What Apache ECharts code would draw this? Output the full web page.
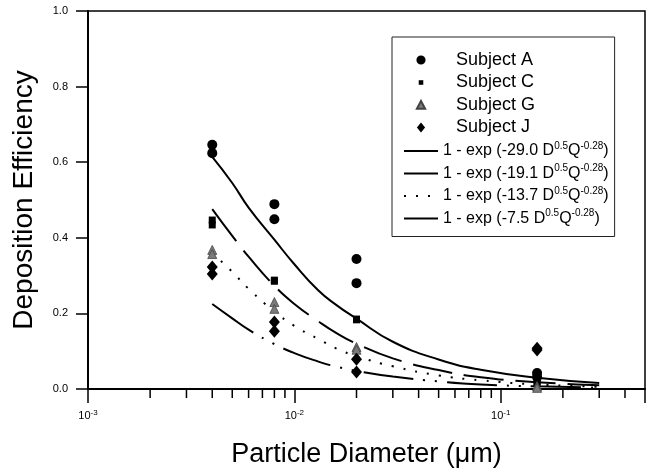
<!DOCTYPE html>
<html>
<head>
    <meta charset="utf-8">
    <title>Deposition Efficiency</title>
    <script src="https://cdn.jsdelivr.net/npm/echarts@6/dist/echarts.min.js"></script>
    <style>
        html, body { margin: 0; padding: 0; background: #fff; }
        #chart { width: 660px; height: 476px; }
    </style>
</head>
<body>
<div id="chart"></div>
<script type="text/javascript">
    // measured particle diameters (um)
    var diameters = [0.004, 0.008, 0.02, 0.15];

    // two repeat measurements per diameter
    var subjectA = [[0.646, 0.624], [0.489, 0.449], [0.344, 0.280], [0.042, 0.032]];
    var subjectC = [[0.447, 0.434], [0.288, 0.285], [0.185, 0.183], [0.019, 0.017]];
    var subjectG = [[0.368, 0.357], [0.230, 0.212], [0.111, 0.104], [0.008, 0.003]];
    var subjectJ = [[0.323, 0.304], [0.177, 0.153], [0.079, 0.045], [0.108, 0.103]];

    // fitted curves
    var fitDiameters = [0.004, 0.005, 0.006, 0.008, 0.01, 0.013, 0.016, 0.02, 0.03, 0.05, 0.08, 0.15, 0.3];
    var fit29 = [0.614, 0.545, 0.480, 0.395, 0.330, 0.262, 0.222, 0.186, 0.125, 0.078, 0.051, 0.030, 0.016];
    var fit19 = [0.476, 0.405, 0.350, 0.273, 0.225, 0.180, 0.148, 0.120, 0.081, 0.050, 0.031, 0.018, 0.010];
    var fit13 = [0.360, 0.310, 0.265, 0.205, 0.167, 0.133, 0.107, 0.087, 0.060, 0.036, 0.023, 0.012, 0.006];
    var fit7 = [0.225, 0.187, 0.157, 0.119, 0.095, 0.073, 0.059, 0.048, 0.033, 0.020, 0.012, 0.007, 0.004];

    var fitCoefs = ['-29.0', '-19.1', '-13.7', '-7.5'];
    var yTicks = [0, 0.2, 0.4, 0.6, 0.8, 1.0];
    var minorTickValues = [0.002, 0.003, 0.004, 0.005, 0.006, 0.007, 0.008, 0.009,
        0.02, 0.03, 0.04, 0.05, 0.06, 0.07, 0.08, 0.09, 0.2, 0.3, 0.4];

    var font = 'Liberation Sans, Arial, Helvetica, sans-serif';

    function points(vals) {
        var out = [];
        for (var i = 0; i < diameters.length; i++) {
            for (var j = 0; j < vals[i].length; j++) {
                out.push([diameters[i], vals[i][j]]);
            }
        }
        return out;
    }

    function curve(vals) {
        return fitDiameters.map(function (d, i) { return [d, vals[i]]; });
    }

    function fitName(i) { return 'fit ' + fitCoefs[i]; }

    function fitLegend(i) {
        return { name: fitName(i), itemStyle: { opacity: 0 } };
    }

    var myChart = echarts.init(document.getElementById('chart'));

    option = {
        animation: false,
        backgroundColor: '#fff',
        textStyle: { fontFamily: font },
        grid: {
            left: 88, right: 15, top: 11, bottom: 87,
            show: true, borderColor: '#000', borderWidth: 1.5
        },
        legend: {
            orient: 'vertical',
            left: 392, top: 37,
            padding: [14, 6, 10, 11],
            itemGap: 4.5,
            itemWidth: 34,
            itemHeight: 11,
            backgroundColor: '#fff',
            borderColor: '#222',
            borderWidth: 1,
            selectedMode: false,
            data: [
                { name: 'Subject A', icon: 'path://M0,0M12,12M6,1A5,5,0,1,1,5.99,1Z' },
                { name: 'Subject C', icon: 'path://M0,0M12,12M3.5,3.5L8.5,3.5L8.5,8.5L3.5,8.5Z' },
                { name: 'Subject G', icon: 'path://M0,0M12,12M6,1.5L10.5,10L1.5,10Z' },
                { name: 'Subject J', icon: 'path://M0,0M12,12M6,0.5L10.5,6L6,11.5L1.5,6Z' },
                fitLegend(0), fitLegend(1), fitLegend(2), fitLegend(3)
            ],
            formatter: function (name) {
                if (name.indexOf('Subject') === 0) {
                    return '{sub|' + name + '}';
                }
                var c = name.split(' ')[1];
                return '{f|1 - exp (' + c + ' D}{sup|0.5}{f|Q}{sup|-0.28}{f|)}';
            },
            textStyle: {
                color: '#000',
                fontFamily: font,
                rich: {
                    sub: { fontSize: 18, lineHeight: 20, padding: [0, 0, 0, 13], fontFamily: font, color: '#000' },
                    f: { fontSize: 16, lineHeight: 20, fontFamily: font, color: '#000' },
                    sup: { fontSize: 10, lineHeight: 9, verticalAlign: 'top', fontFamily: font, color: '#000' }
                }
            }
        },
        xAxis: {
            type: 'log',
            logBase: 10,
            min: 0.001,
            max: 0.5,
            name: 'Particle Diameter (\u03bcm)',
            nameLocation: 'middle',
            nameGap: 52,
            nameTextStyle: { fontSize: 27, color: '#000', fontFamily: font },
            axisLine: { lineStyle: { color: '#000', width: 2 } },
            axisTick: { show: true, length: 14, lineStyle: { color: '#000', width: 1.5 } },
            splitLine: { show: false },
            axisLabel: {
                margin: 20,
                color: '#000',
                formatter: function (v) {
                    var e = Math.log(v) / Math.LN10;
                    if (Math.abs(e - Math.round(e)) > 1e-6) return '';
                    return '{b|10}{s|' + Math.round(e) + '}';
                },
                rich: {
                    b: { fontSize: 11, lineHeight: 14, fontFamily: font, color: '#000' },
                    s: { fontSize: 8, lineHeight: 8, verticalAlign: 'top', fontFamily: font, color: '#000' }
                }
            }
        },
        yAxis: {
            type: 'value',
            min: yTicks[0],
            max: yTicks[yTicks.length - 1],
            interval: 0.2,
            name: 'Deposition Efficiency',
            nameLocation: 'middle',
            nameRotate: 90,
            nameGap: 50,
            nameTextStyle: { fontSize: 28, color: '#000', fontFamily: font },
            axisLine: { show: true, lineStyle: { color: '#000', width: 2 } },
            axisTick: { show: true, length: 12, lineStyle: { color: '#000', width: 1.5 } },
            splitLine: { show: false },
            axisLabel: {
                margin: 20,
                fontSize: 11,
                color: '#000',
                formatter: function (v) { return v.toFixed(1); }
            }
        },
        series: [
            {
                name: fitName(0), type: 'line', data: curve(fit29), smooth: true,
                symbol: 'none', z: 2, itemStyle: { color: '#000' },
                lineStyle: { color: '#000', width: 2, type: 'solid' }
            },
            {
                name: fitName(1), type: 'line', data: curve(fit19), smooth: true,
                symbol: 'none', z: 2, itemStyle: { color: '#000' },
                lineStyle: { color: '#000', width: 2, type: [40, 12] }
            },
            {
                name: fitName(2), type: 'line', data: curve(fit13), smooth: true,
                symbol: 'none', z: 2, itemStyle: { color: '#000' },
                lineStyle: { color: '#000', width: 2, type: [2, 10] }
            },
            {
                name: fitName(3), type: 'line', data: curve(fit7), smooth: true,
                symbol: 'none', z: 2, itemStyle: { color: '#000' },
                lineStyle: { color: '#000', width: 2, type: [50, 10, 2, 10, 2, 10] }
            },
            {
                name: 'Subject A', type: 'scatter', data: points(subjectA),
                symbol: 'circle', symbolSize: 10, z: 5,
                itemStyle: { color: '#000', opacity: 1 }
            },
            {
                name: 'Subject C', type: 'scatter', data: points(subjectC),
                symbol: 'rect', symbolSize: 7, z: 5,
                itemStyle: { color: '#000', opacity: 1 }
            },
            {
                name: 'Subject G', type: 'scatter', data: points(subjectG),
                symbol: 'triangle', symbolSize: 9, z: 5,
                itemStyle: { color: '#7a7a7a', borderColor: '#444', borderWidth: 0.8, opacity: 1 }
            },
            {
                name: 'Subject J', type: 'scatter', data: points(subjectJ),
                symbol: 'diamond', symbolSize: [11, 13], z: 5,
                itemStyle: { color: '#000', opacity: 1 }
            },
            {
                // minor log ticks under the x axis
                type: 'custom',
                silent: true,
                clip: false,
                data: minorTickValues.map(function (v) { return [v, 0]; }),
                renderItem: function (params, api) {
                    var p = api.coord([api.value(0), 0]);
                    return {
                        type: 'line',
                        shape: { x1: p[0], y1: p[1], x2: p[0], y2: p[1] + 9 },
                        style: { stroke: '#000', lineWidth: 1.5 }
                    };
                },
                z: 1
            }
        ]
    };

    myChart.setOption(option);
</script>
</body>
</html>
